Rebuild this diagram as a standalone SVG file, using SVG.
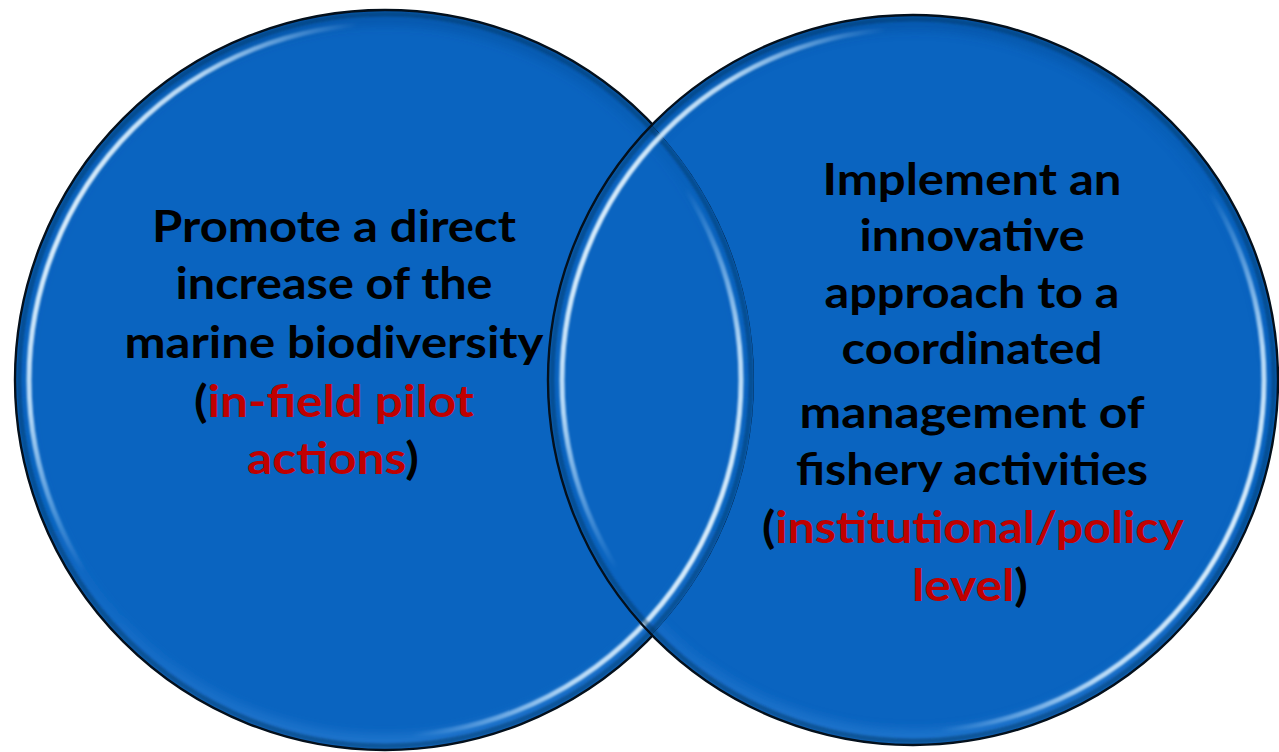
<svg xmlns="http://www.w3.org/2000/svg" width="1279" height="752" viewBox="0 0 1279 752">
  <style>
    .fill { fill: #0a64c0; }
    .edge { fill: none; stroke: #04101c; stroke-width: 2.4; }
    .shade { fill: none; stroke: #03305f; stroke-width: 5; stroke-opacity: 0.45; filter: url(#blur); }
    .bevel { fill: none; stroke: url(#bevelGrad); stroke-width: 16; filter: url(#soft); }
    .hl { fill: none; stroke: url(#hlGrad); stroke-width: 5; filter: url(#blur); }
    .lbl { font-family: "Lato", "Open Sans", "Liberation Sans", sans-serif; font-weight: 700; font-size: 44px; fill: #000; text-anchor: middle; }
    .red { fill: #c00000; }
  </style>
  <defs>
    <linearGradient id="hlGrad" x1="0" y1="0.25" x2="1" y2="0.75">
      <stop offset="0" stop-color="#f2fbff" stop-opacity="1"/>
      <stop offset="0.12" stop-color="#d2ecff" stop-opacity="0.85"/>
      <stop offset="0.27" stop-color="#9fd2ff" stop-opacity="0"/>
      <stop offset="0.73" stop-color="#9fd2ff" stop-opacity="0"/>
      <stop offset="0.88" stop-color="#d2ecff" stop-opacity="0.85"/>
      <stop offset="1" stop-color="#f2fbff" stop-opacity="1"/>
    </linearGradient>
    <linearGradient id="bevelGrad" x1="0" y1="0" x2="0" y2="1">
      <stop offset="0" stop-color="#04468f" stop-opacity="0.35"/>
      <stop offset="0.5" stop-color="#0a64c0" stop-opacity="0"/>
      <stop offset="1" stop-color="#3f8fe0" stop-opacity="0.35"/>
    </linearGradient>
    <filter id="blur" x="-5%" y="-5%" width="110%" height="110%">
      <feGaussianBlur stdDeviation="1.3"/>
    </filter>
    <filter id="soft" x="-5%" y="-5%" width="110%" height="110%">
      <feGaussianBlur stdDeviation="4"/>
    </filter>
    <mask id="notLeft" maskUnits="userSpaceOnUse" x="0" y="0" width="1279" height="752">
      <rect x="0" y="0" width="1279" height="752" fill="#fff"/>
      <circle cx="385" cy="380" r="369" fill="#000"/>
    </mask>
    <clipPath id="clipL"><circle cx="385" cy="380" r="370"/></clipPath>
    <clipPath id="clipR"><circle cx="913" cy="380" r="365"/></clipPath>
  </defs>

  <rect width="1279" height="752" fill="#fff"/>

  <g id="node-left">
    <circle class="fill" cx="385" cy="380" r="370"/>
    <circle class="bevel" cx="385" cy="380" r="362" clip-path="url(#clipL)"/>
    <circle class="shade" cx="385" cy="380" r="366" clip-path="url(#clipL)"/>
    <circle class="hl" cx="385" cy="380" r="356"/>
    <circle class="edge" cx="385" cy="380" r="370"/>
    <text class="lbl" x="334" y="242" textLength="364" lengthAdjust="spacingAndGlyphs">Promote a direct</text>
    <text class="lbl" x="334" y="299" textLength="317" lengthAdjust="spacingAndGlyphs">increase of the</text>
    <text class="lbl" x="334" y="358" textLength="419" lengthAdjust="spacingAndGlyphs">marine biodiversity</text>
    <text class="lbl" x="334" y="417" textLength="280" lengthAdjust="spacingAndGlyphs">(<tspan class="red">in-field pilot</tspan></text>
    <text class="lbl" x="333" y="474" textLength="172" lengthAdjust="spacingAndGlyphs"><tspan class="red">actions</tspan>)</text>
  </g>

  <g id="node-right">
    <circle class="fill" cx="913" cy="380" r="365" mask="url(#notLeft)"/>
    <circle class="bevel" cx="913" cy="380" r="357" clip-path="url(#clipR)" mask="url(#notLeft)"/>
    <circle class="shade" cx="913" cy="380" r="361" clip-path="url(#clipR)"/>
    <circle class="hl" cx="913" cy="380" r="351"/>
    <circle class="edge" cx="913" cy="380" r="365"/>
    <text class="lbl" x="972" y="195" textLength="299" lengthAdjust="spacingAndGlyphs">Implement an</text>
    <text class="lbl" x="972" y="251" textLength="225" lengthAdjust="spacingAndGlyphs">innovative</text>
    <text class="lbl" x="972" y="308" textLength="295" lengthAdjust="spacingAndGlyphs">approach to a</text>
    <text class="lbl" x="972" y="364" textLength="261" lengthAdjust="spacingAndGlyphs">coordinated</text>
    <text class="lbl" x="972" y="428" textLength="345" lengthAdjust="spacingAndGlyphs">management of</text>
    <text class="lbl" x="972" y="485" textLength="352" lengthAdjust="spacingAndGlyphs">fishery activities</text>
    <text class="lbl" x="973" y="543" textLength="422" lengthAdjust="spacingAndGlyphs">(<tspan class="red">institutional/policy</tspan></text>
    <text class="lbl" x="970" y="601" textLength="116" lengthAdjust="spacingAndGlyphs"><tspan class="red">level</tspan>)</text>
  </g>
</svg>
